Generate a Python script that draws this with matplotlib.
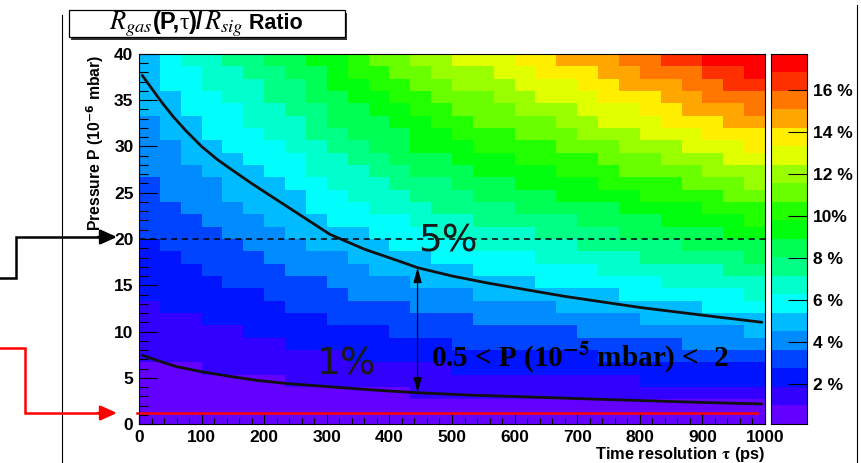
import colorsys
import numpy as np
import matplotlib
matplotlib.use("Agg")
import matplotlib.pyplot as plt
from matplotlib.colors import ListedColormap
from matplotlib.patches import Rectangle
from matplotlib.ticker import MultipleLocator
from matplotlib.offsetbox import TextArea, HPacker, AnnotationBbox

W, H = 862, 463

# binning of the map: 30 bins in tau (0-1000 ps), 30 bins in P (0-40 x1e-6 mbar)
TAU_EDGES = np.linspace(0, 1000, 31)
P_EDGES = np.linspace(0, 40, 31)

# gas/signal ratio per unit pressure in each tau bin (% per 1e-6 mbar)
RATE = [0.136, 0.149, 0.161, 0.172, 0.183, 0.193, 0.205, 0.218, 0.234, 0.248,
        0.260, 0.272, 0.284, 0.298, 0.307, 0.317, 0.327, 0.336, 0.345, 0.353,
        0.362, 0.372, 0.382, 0.391, 0.400, 0.410, 0.418, 0.429, 0.441, 0.451]

# iso-ratio curves
CURVE5_TAU = [5, 20, 35, 55, 75, 100, 125, 150, 180, 214, 255, 305, 360, 420,
              445, 500, 560, 620, 680, 740, 800, 860, 920, 995]
CURVE5_P = [37.7, 36.3, 34.9, 33.2, 31.7, 30.0, 28.6, 27.4, 26.0, 24.5, 22.7, 20.5,
            18.9, 17.5, 16.9, 16.0, 15.2, 14.5, 13.8, 13.2, 12.6, 12.1, 11.6, 11.0]
CURVE1_TAU = [5, 30, 60, 100, 145, 190, 240, 320, 380, 445, 530, 620, 700, 785,
              865, 945, 995]
CURVE1_P = [7.45, 6.85, 6.2, 5.65, 5.15, 4.7, 4.35, 3.95, 3.65, 3.38, 3.12, 2.93,
            2.75, 2.57, 2.4, 2.25, 2.17]

CBAR_TICKS = [2, 4, 6, 8, 10, 12, 14, 16]
CBAR_LABELS = ["2 %", "4 %", "6 %", "8 %", "10%", "12 %", "14 %", "16 %"]

P_REF = 20       # dashed line
P_LOW = 1.2      # red line
ARROW_TAU = 445
ARROW_P = (16.9, 3.4)
NLEV = 20

SANS = "Liberation Sans"
SERIF = "Liberation Serif"


def root_palette(nlev):
    # ROOT "pretty" palette: 50 HLS colours, hue 280 -> 0, then picked per level
    cols = []
    for k in range(nlev):
        idx = int((k + 0.99) * 50 / nlev)
        hue = 280 - (idx + 1) * 280 / 50
        cols.append(colorsys.hls_to_rgb(hue / 360, 0.5, 1.0))
    return ListedColormap(cols)


p_cent = 0.5 * (P_EDGES[:-1] + P_EDGES[1:])
ratio = np.outer(p_cent, RATE)
zmin, zmax = ratio.min(), ratio.max()
levels = np.linspace(zmin, zmax, NLEV + 1)
lev_idx = np.clip(((ratio - zmin) / (zmax - zmin) * NLEV).astype(int), 0, NLEV - 1)
cmap = root_palette(NLEV)

fig = plt.figure(figsize=(W / 100, H / 100), dpi=100)


def px_box(x0, y0, x1, y1):
    return [x0 / W, 1 - y1 / H, (x1 - x0) / W, (y1 - y0) / H]


ax = fig.add_axes(px_box(139, 54, 765, 424))
ax.pcolormesh(TAU_EDGES, P_EDGES, lev_idx, cmap=cmap, vmin=-0.5, vmax=NLEV - 0.5)
ax.set_xlim(0, 1000)
ax.set_ylim(0, 40)
ax.xaxis.set_major_locator(MultipleLocator(100))
ax.xaxis.set_minor_locator(MultipleLocator(20))
ax.yaxis.set_major_locator(MultipleLocator(5))
ax.yaxis.set_minor_locator(MultipleLocator(1))
ax.tick_params(direction="in", colors="black", width=0.8, labelsize=12.5, pad=4)
ax.tick_params(axis="y", which="major", length=13)
ax.tick_params(axis="y", which="minor", length=6.5, width=0.8, direction="in")
ax.tick_params(axis="x", which="major", length=8)
ax.tick_params(axis="x", which="minor", length=4, width=0.8, direction="in")
for lab in ax.get_xticklabels() + ax.get_yticklabels():
    lab.set_fontweight("bold")
    lab.set_family(SANS)
for sp in ax.spines.values():
    sp.set_linewidth(0.8)

# iso-ratio curves and annotations
ax.plot(CURVE5_TAU, CURVE5_P, color="#111111", lw=2.0, solid_capstyle="round")
ax.plot(CURVE1_TAU, CURVE1_P, color="#111111", lw=2.0, solid_capstyle="round")
ax.plot([0, 1008], [P_REF, P_REF], color="black", lw=1.1, ls=(0, (4, 3)), clip_on=False)
ax.plot([-3, 987], [P_LOW, P_LOW], color="red", lw=1.8, clip_on=False)
ax.annotate("", xy=(ARROW_TAU, ARROW_P[0]), xytext=(ARROW_TAU, ARROW_P[1]),
            arrowprops=dict(arrowstyle="<|-|>,head_length=0.9,head_width=0.25",
                            color="black", lw=0.9, shrinkA=0, shrinkB=0))
ax.text(446, 18.6, "5%", fontsize=27, color="#1a1a1a", family="DejaVu Sans")
ax.text(284, 5.3, "1%", fontsize=27, color="#1a1a1a", family="DejaVu Sans")
ax.text(467, 6.2, r"0.5 < P (10$^{\mathbf{-5}}$ mbar) <  2", fontsize=21,
        fontweight="bold", family=SERIF, math_fontfamily="stix", color="black")

# palette axis
cax = fig.add_axes(px_box(771, 54, 807, 424))
cax.pcolormesh([0, 1], levels, np.arange(NLEV).reshape(-1, 1), cmap=cmap,
               vmin=-0.5, vmax=NLEV - 0.5)
cax.set_xlim(0, 1)
cax.set_ylim(zmin, zmax)
cax.set_xticks([])
cax.yaxis.tick_right()
cax.set_yticks(CBAR_TICKS)
cax.set_yticklabels(CBAR_LABELS)
cax.tick_params(axis="y", direction="in", length=14, width=0.8, pad=4, labelsize=12.5)
for lab in cax.get_yticklabels():
    lab.set_fontweight("bold")
    lab.set_family(SANS)
for sp in cax.spines.values():
    sp.set_linewidth(0.8)

# axis titles
fig.text(95 / W, 1 - 55 / H, r"Pressure P (10$^{\mathbf{-6}}$ mbar)", rotation=90,
         ha="center", va="top", fontsize=11.3, fontweight="bold", family=SANS)
fig.text(765 / W, 1 - 454 / H, r"Time resolution $\mathbf{\tau}$ (ps)", ha="right",
         va="center", fontsize=11.8, fontweight="bold", family=SANS,
         math_fontfamily="stix")

# overlay in pixel coordinates for the frame lines, title box and arrows
ov = fig.add_axes([0, 0, 1, 1])
ov.set_xlim(0, W)
ov.set_ylim(H, 0)
ov.axis("off")
ov.plot([62, 62], [15, H], color="black", lw=0.8)
ov.plot([857, 857], [5, H], color="black", lw=0.8)

ov.add_patch(Rectangle((71.5, 12.5), 276, 27, facecolor="#333333", edgecolor="none"))
ov.add_patch(Rectangle((69, 10), 276, 27, facecolor="white", edgecolor="black", lw=0.9))

# title built from pieces: serif italic R's, bold sans for the rest
bold = dict(family=SANS, fontweight="bold", size=17)
title_parts = [
    TextArea(r"$R_{gas}$", textprops=dict(size=19, math_fontfamily="stix")),
    TextArea("(P,", textprops=bold),
    TextArea("\u03c4", textprops=dict(family=SERIF, size=17)),
    TextArea(")/", textprops=bold),
    TextArea(r"$R_{sig}$", textprops=dict(size=19, math_fontfamily="stix")),
    TextArea(" Ratio", textprops=dict(family=SANS, fontweight="bold", size=15.5)),
]
title_box = HPacker(children=title_parts, align="baseline", pad=0, sep=0)
ov.add_artist(AnnotationBbox(title_box, (206, 24), xycoords="data", frameon=False,
                             box_alignment=(0.5, 0.5), pad=0))

# black pointer to the 20 line
ov.plot([0, 16, 16, 100], [278, 278, 237, 237], color="black", lw=1.8,
        solid_joinstyle="miter")
ov.annotate("", xy=(117, 237), xytext=(98, 237),
            arrowprops=dict(arrowstyle="-|>,head_length=1.0,head_width=0.45",
                            color="black", lw=1.8, shrinkA=0, shrinkB=0))
# red pointer to the low pressure line
ov.plot([0, 25, 25, 100], [348, 348, 413, 413], color="red", lw=1.8,
        solid_joinstyle="miter")
ov.annotate("", xy=(117, 413), xytext=(98, 413),
            arrowprops=dict(arrowstyle="-|>,head_length=1.0,head_width=0.45",
                            color="red", lw=1.8, shrinkA=0, shrinkB=0))

fig.savefig("out.png", dpi=100)
